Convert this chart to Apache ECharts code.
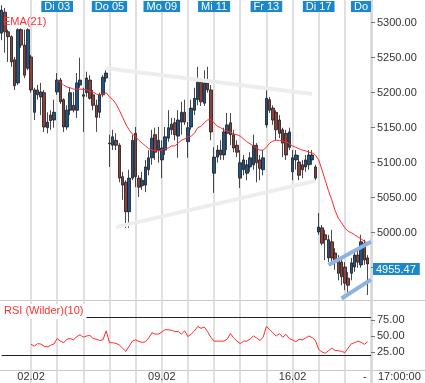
<!DOCTYPE html>
<html><head><meta charset="utf-8">
<script src="https://cdn.jsdelivr.net/npm/echarts@6/dist/echarts.min.js"></script>
<style>html,body{margin:0;padding:0;background:#fff}#c{width:425px;height:383px}</style>
</head><body><div id="c"></div>
<script>
// ---- categories (hourly candles) ----
const tradingDays = ['30.01','02.02','03.02','04.02','05.02','06.02','09.02','10.02','11.02','12.02','13.02','16.02','17.02','18.02'];
const hours = ['10:00','11:00','12:00','13:00','14:00','15:00','16:00','17:00'];
const firstCategory = '29.01 17:00';
const lastCategory = '19.02 10:00';
const categories = [firstCategory];
tradingDays.forEach(d => hours.forEach(h => categories.push(d + ' ' + h)));
categories.push(lastCategory);

// ---- top day tags & bottom date labels ----
const topTags = {'03.02 10:00':'Di 03','05.02 10:00':'Do 05','09.02 10:00':'Mo 09','11.02 10:00':'Mi 11','13.02 10:00':'Fr 13','17.02 10:00':'Di 17','19.02 10:00':'Do'};
const bottomTags = {'02.02 10:00':'02.02','09.02 10:00':'09.02','16.02 10:00':'16.02'};
const yTicksMain = [4950, 5000, 5050, 5100, 5150, 5200, 5250, 5300];
const yTicksRsi = [25, 50, 75];
const lastPrice = 4955.47;
const cursorTime = '17:00:00';

// ---- OHLC ----
const open = [5285,5315,5287,5280,5247,5214,5290,5268,5235,
 5251,5172,5204,5194,5200,5150,5168,5161,
 5201,5218,5190,5151,5175,5182,5175,5211,
 5197,5200,5218,5197,5182,5172,5197,5221,
 5127,5125,5132,5125,5080,5072,5030,5078,
 5142,5078,5067,5068,5090,5107,5140,5118,
 5104,5118,5135,5147,5157,5138,5158,5172,
 5130,5151,5175,5190,5215,5185,5214,5204,
 5085,5108,5118,5111,5142,5157,5140,5125,
 5078,5090,5085,5094,5097,5125,5104,5090,
 5154,5190,5178,5172,5161,5147,5142,5122,
 5087,5104,5101,5097,5094,5097,5104,5094,
 5001,5007,4997,4964,4987,4971,4961,4958,
 4951,4935,4942,4951,4968,4954,4985,4964];
const close = [5318,5287,5280,5244,5210,5290,5268,5225,5290,
 5204,5204,5197,5201,5151,5158,5160,5172,
 5218,5187,5151,5175,5200,5175,5214,5218,
 5195,5221,5192,5182,5165,5197,5222,5228,
 5128,5137,5125,5078,5068,5030,5078,5132,
 5080,5065,5075,5094,5107,5135,5115,5132,
 5121,5137,5150,5155,5140,5161,5172,5158,
 5150,5178,5192,5215,5187,5214,5204,5144,
 5108,5118,5111,5144,5154,5140,5121,5115,
 5100,5104,5097,5107,5125,5100,5092,5107,
 5192,5175,5161,5147,5142,5128,5111,5144,
 5107,5111,5082,5090,5104,5111,5111,5078,
 5008,4985,4990,4990,4964,4961,4942,4937,
 4928,4925,4957,4968,4958,4987,4961,4955.47];
const low = [5275,5257,5244,5237,5204,5211,5264,5221,5232,
 5200,5161,5190,5168,5144,5142,5147,5150,
 5197,5184,5144,5147,5168,5172,5164,5207,
 5144,5194,5190,5175,5144,5164,5194,5215,
 5094,5118,5118,5072,5047,5007,5007,5075,
 5065,5051,5061,5058,5082,5097,5104,5100,
 5078,5111,5130,5140,5132,5107,5140,5154,
 5107,5147,5168,5182,5181,5181,5200,5132,
 5057,5100,5104,5104,5118,5125,5115,5108,
 5064,5082,5075,5087,5090,5072,5075,5082,
 5150,5171,5154,5132,5135,5108,5104,5118,
 5075,5090,5075,5078,5087,5090,5097,5075,
 4997,4982,4961,4958,4958,4947,4932,4925,
 4918,4915,4932,4944,4950,4950,4954,4911];
const high = [5325,5321,5290,5282,5251,5292,5292,5290,5292,
 5254,5207,5211,5214,5204,5172,5175,5190,
 5228,5221,5192,5182,5207,5201,5228,5250,
 5207,5230,5225,5204,5190,5200,5225,5232,
 5140,5147,5142,5128,5087,5075,5090,5140,
 5151,5082,5087,5104,5118,5147,5150,5151,
 5132,5151,5175,5164,5164,5175,5187,5190,
 5158,5190,5207,5237,5221,5232,5237,5211,
 5122,5125,5132,5150,5171,5171,5147,5132,
 5118,5111,5104,5115,5140,5128,5111,5118,
 5204,5194,5182,5175,5168,5150,5147,5150,
 5118,5118,5111,5104,5111,5118,5118,5097,
 5028,5011,5004,4997,5004,4978,4968,4964,
 4958,4944,4964,4975,4975,4997,4990,4968];

// ---- EMA(21) ----
const ema = [null,null,null,null,null,null,null,null,null,null,null,null,null,null,null,null,null,
 5218,5215,5211,5208,5207,5205,5205,5205,
 5205,5204,5202,5201,5198,5197,5198,5200,
 5194,5190,5184,5175,5165,5155,5147,5141,
 5137,5132,5128,5124,5120,5118,5117,5117,
 5118,5120,5121,5124,5124,5128,5132,5134,
 5137,5138,5142,5150,5152,5157,5161,5162,
 5157,5152,5150,5147,5145,5144,5141,5140,
 5138,5134,5130,5127,5124,5121,5118,5118,
 5122,5128,5131,5132,5132,5131,5130,5127,
 5124,5122,5120,5118,5117,5115,5114,5111,
 5104,5090,5075,5060,5047,5032,5021,5014,
 5007,5002,5000,4997,4994,4991,4988,4985];

// ---- RSI (Wilder)(10) ----
const rsi = [null,null,null,null,null,null,null,null,null,
 37,34,38,37.5,34,33,35.5,37.5,
 46,42,39.5,45,46,44,49,52,
 48,50,51,46,45,43,44,58,
 39.5,39.5,38.5,36,31,26,34,42,
 44,41.5,40,41,47,55,53,53,
 56,60,59.5,59,57,57,53,58,
 49,53,58,65,62,64,57,48,
 42,42,42,42,45,54,47,42,
 38,42,42,45,50,47,43,48,
 65,60,55,50,53.6,48,52.6,46,
 44,41,45,44,47,50,47.5,43,
 29,25,23,27,31,27.5,27,26,
 24,31,38,39.5,42,40,37,41];
const rsiLevels = [80, 20];

// ---- drawn trend lines [startCategoryIndex, startPrice, endCategoryIndex, endPrice] ----
const grayLines = [[32, 5235, 95, 5198], [35, 5008, 96, 5074]];
const blueLines = [[100, 4954, 113, 4987], [104, 4906, 113, 4933]];

const candles = open.map((o, i) => [o, close[i], low[i], high[i]]);

const FONT = '"Liberation Sans", Arial, sans-serif';
const GL = 1.6, GR = 54;

const lineMark = (arr, color, width) => arr.map(l => [
  {coord: [categories[l[0]], l[1]], lineStyle: {color: color, width: width, type: 'solid'}},
  {coord: [categories[l[2]], l[3]]}
]);

const baseGraphic = [
  {type: 'line', silent: true, shape: {x1: 0, y1: 300.5, x2: 425, y2: 300.5}, style: {stroke: '#c8c8c8', lineWidth: 1}},
  {type: 'line', silent: true, shape: {x1: 0, y1: 370.5, x2: 425, y2: 370.5}, style: {stroke: '#c8c8c8', lineWidth: 1}},
  {type: 'line', silent: true, shape: {x1: 372, y1: 0, x2: 372, y2: 383}, style: {stroke: '#cfcfcf', lineWidth: 1.5}},
  {type: 'text', silent: true, left: 363, top: 371, style: {text: '-', fill: '#333', font: '11px ' + FONT}},
  {type: 'text', silent: true, left: 378, top: 371, style: {text: cursorTime, fill: '#333', font: '11px ' + FONT}}
];

const chart = echarts.init(document.getElementById('c'));
chart.setOption({
  animation: false,
  textStyle: {fontFamily: FONT},
  title: [
    {text: 'EMA(21)', left: 3, top: 16, padding: 0, z: 10,
     textStyle: {color: '#ff3030', fontSize: 11, fontWeight: 'normal', fontFamily: FONT}},
    {text: 'RSI (Wilder)(10)', left: 0, top: 304, padding: [1, 3, 3, 4], backgroundColor: '#fff',
     textStyle: {color: '#ff3030', fontSize: 11, fontWeight: 'normal', fontFamily: FONT}}
  ],
  grid: [
    {left: GL, right: GR, top: 0, height: 300},
    {left: GL, right: GR, top: 304, height: 64},
    {left: GL, right: GR, top: 0, bottom: 0}
  ],
  xAxis: [
    {type: 'category', gridIndex: 0, data: categories, boundaryGap: false, show: false},
    {type: 'category', gridIndex: 2, data: categories, boundaryGap: false, position: 'top',
     axisLine: {show: false}, axisTick: {show: false}, splitLine: {show: false},
     axisLabel: {inside: true, margin: 1, interval: (i, v) => topTags[v] !== undefined,
       formatter: v => topTags[v] || '', color: '#fff', backgroundColor: '#1b88c9',
       padding: [1, 3, 0, 3], fontSize: 11, lineHeight: 10, fontFamily: FONT, alignMaxLabel: 'right'}},
    {type: 'category', gridIndex: 1, data: categories, boundaryGap: false,
     axisLine: {show: false}, axisTick: {show: false}, splitLine: {show: false},
     axisLabel: {interval: (i, v) => bottomTags[v] !== undefined, formatter: v => bottomTags[v] || '',
       margin: 3, color: '#333', fontSize: 11, fontFamily: FONT}},
    {type: 'category', gridIndex: 2, data: categories, boundaryGap: false,
     axisLine: {show: false}, axisTick: {show: false}, axisLabel: {show: false},
     splitLine: {show: true, interval: (i, v) => i >= 9 && v.endsWith(hours[0]),
       lineStyle: {color: '#d6d6d6', width: 1.5}}}
  ],
  yAxis: [
    {type: 'value', gridIndex: 0, position: 'right', min: 4903.9, max: 5332.4,
     axisLine: {show: false}, splitLine: {show: false},
     axisTick: {show: true, length: 4, customValues: yTicksMain, lineStyle: {color: '#777'}},
     axisLabel: {customValues: yTicksMain, formatter: v => v.toFixed(2),
       color: '#333', fontSize: 11, margin: 6, fontFamily: FONT}},
    {type: 'value', gridIndex: 1, position: 'right', min: 0, max: 100,
     axisLine: {show: false}, splitLine: {show: false},
     axisTick: {show: true, length: 4, customValues: yTicksRsi, lineStyle: {color: '#777'}},
     axisLabel: {customValues: yTicksRsi, formatter: v => v.toFixed(2),
       color: '#333', fontSize: 11, margin: 6, fontFamily: FONT}},
    {type: 'value', gridIndex: 2, show: false}
  ],
  series: [
    {type: 'candlestick', xAxisIndex: 0, yAxisIndex: 0, data: candles, barWidth: 3,
     itemStyle: {color: '#1c5587', color0: '#8f3e3e', borderColor: '#1a1a1a', borderColor0: '#1a1a1a', borderWidth: 0.8},
     markLine: {silent: true, symbol: 'none', animation: false, label: {show: false},
       data: lineMark(grayLines, '#ededed', 4).concat(lineMark(blueLines, '#8db3e2', 4))}},
    {type: 'line', xAxisIndex: 0, yAxisIndex: 0, data: ema, showSymbol: false, z: 4,
     lineStyle: {color: '#ff2a2a', width: 1}},
    {type: 'line', xAxisIndex: 2, yAxisIndex: 1, data: rsi, showSymbol: false,
     lineStyle: {color: '#ff2a2a', width: 1},
     markLine: {silent: true, symbol: 'none', animation: false, label: {show: false},
       lineStyle: {color: '#222', width: 1, type: 'solid'},
       data: rsiLevels.map(v => ({yAxis: v}))}}
  ],
  graphic: baseGraphic
});

// price tag positioned through the library's own y scale
const tagY = chart.convertToPixel({yAxisIndex: 0}, lastPrice);
chart.setOption({
  graphic: baseGraphic.concat([
    {type: 'text', silent: true, z: 100, x: 373, y: Math.round(tagY) - 1,
     style: {text: lastPrice.toFixed(2), fill: '#fff', backgroundColor: '#1b88c9',
       padding: [1, 4, 0, 3], font: '11px ' + FONT, lineHeight: 11}}
  ])
});
</script></body></html>
